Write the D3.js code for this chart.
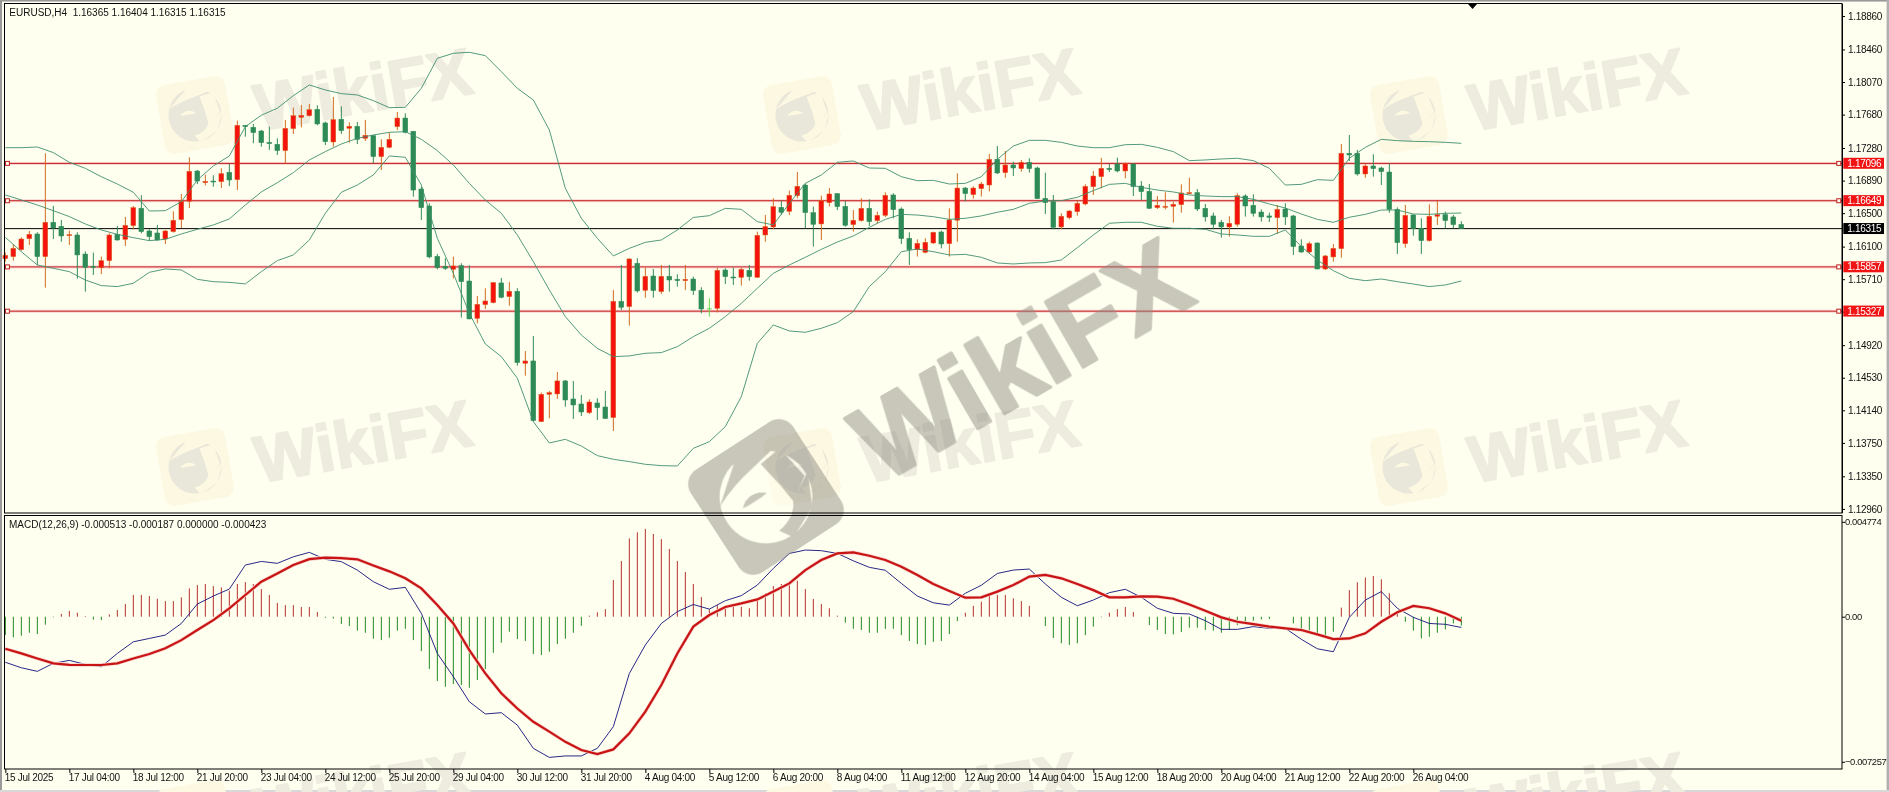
<!DOCTYPE html>
<html><head><meta charset="utf-8">
<script src="https://cdn.jsdelivr.net/npm/d3@7/dist/d3.min.js"></script>
<style>
html,body{margin:0;padding:0;background:#fffff0;overflow:hidden}
svg{display:block}
text{font-family:"Liberation Sans",Arial,sans-serif;fill:#111}
</style></head><body><svg id="c" width="1889" height="792"></svg>
<script>
const opens=[1.15956,1.15980,1.16063,1.16195,1.16251,1.15980,1.16391,1.16343,1.16231,1.16239,
1.16011,1.15864,1.15848,1.15932,1.16247,1.16187,1.16351,1.16558,1.16287,1.16263,
1.16191,1.16279,1.16423,1.16642,1.17005,1.16865,1.16885,1.16877,1.16989,1.16901,
1.17552,1.17528,1.17484,1.17348,1.17324,1.17249,1.17512,1.17647,1.17667,1.17743,
1.17580,1.17352,1.17624,1.17516,1.17540,1.17396,1.17428,1.17177,1.17288,1.17536,
1.17639,1.17480,1.16789,1.16586,1.15983,1.15864,1.15828,1.15872,1.15688,1.15241,
1.15405,1.15429,1.15665,1.15501,1.15565,1.14703,1.14731,1.14005,1.14332,1.14336,
1.14492,1.14276,1.14216,1.14112,1.14228,1.14180,1.14053,1.15445,1.15381,1.15900,
1.15577,1.15748,1.15561,1.15744,1.15708,1.15692,1.15712,1.15577,1.15361,1.15361,
1.15820,1.15736,1.15732,1.15816,1.15732,1.16239,1.16335,1.16570,1.16522,1.16710,
1.16837,1.16506,1.16371,1.16626,1.16734,1.16582,1.16363,1.16411,1.16558,1.16411,
1.16474,1.16718,1.16550,1.16199,1.16063,1.16031,1.16143,1.16275,1.16135,1.16415,
1.16801,1.16722,1.16794,1.16837,1.17145,1.16985,1.17077,1.17033,1.17109,1.17041,
1.16678,1.16638,1.16335,1.16446,1.16518,1.16610,1.16817,1.16937,1.17037,1.17089,
1.17005,1.17089,1.16825,1.16762,1.16566,1.16570,1.16582,1.16602,1.16734,1.16746,
1.16558,1.16467,1.16391,1.16335,1.16367,1.16706,1.16594,1.16514,1.16467,1.16446,
1.16550,1.16467,1.16107,1.16035,1.16143,1.15832,1.15976,1.16075,1.17217,1.17217,
1.16969,1.17065,1.17041,1.16993,1.16546,1.16135,1.16479,1.16319,1.16171,1.16463,
1.16483,1.16455,1.16365];
const highs=[1.16028,1.16127,1.16211,1.16287,1.16271,1.17217,1.16586,1.16419,1.16291,1.16271,
1.16043,1.16028,1.15980,1.16259,1.16347,1.16455,1.16586,1.16714,1.16307,1.16359,
1.16299,1.16522,1.16730,1.17169,1.17017,1.16961,1.16953,1.17037,1.17089,1.17608,
1.17556,1.17568,1.17496,1.17536,1.17396,1.17616,1.17763,1.17795,1.17807,1.17791,
1.17596,1.17891,1.17779,1.17588,1.17592,1.17616,1.17436,1.17384,1.17464,1.17711,
1.17695,1.17484,1.16817,1.16618,1.16011,1.15960,1.15980,1.15900,1.15876,1.15509,
1.15601,1.15677,1.15724,1.15677,1.15601,1.14850,1.15030,1.14352,1.14372,1.14599,
1.14503,1.14492,1.14324,1.14272,1.14284,1.14372,1.15581,1.15880,1.15960,1.15960,
1.15848,1.15832,1.15880,1.15880,1.15768,1.15880,1.15740,1.15613,1.15481,1.15848,
1.15840,1.15848,1.15848,1.15880,1.16279,1.16479,1.16678,1.16650,1.16770,1.16993,
1.16857,1.16578,1.16710,1.16801,1.16738,1.16646,1.16538,1.16678,1.16666,1.16518,
1.16750,1.16738,1.16570,1.16271,1.16187,1.16199,1.16279,1.16291,1.16558,1.16977,
1.16813,1.16821,1.16873,1.17209,1.17304,1.17245,1.17117,1.17137,1.17157,1.17057,
1.16985,1.16718,1.16498,1.16538,1.16646,1.16845,1.17005,1.17161,1.17089,1.17165,
1.17109,1.17097,1.16885,1.16849,1.16706,1.16750,1.16638,1.16845,1.16925,1.16789,
1.16610,1.16506,1.16419,1.16463,1.16738,1.16726,1.16726,1.16546,1.16506,1.16598,
1.16618,1.16479,1.16187,1.16159,1.16151,1.16000,1.16131,1.17328,1.17436,1.17257,
1.17085,1.17205,1.17057,1.17097,1.16570,1.16598,1.16486,1.16439,1.16606,1.16646,
1.16518,1.16479,1.16404];
const lows=[1.15920,1.15932,1.16051,1.16119,1.15880,1.15609,1.16191,1.16159,1.16119,1.15716,
1.15561,1.15760,1.15772,1.15840,1.16171,1.16107,1.16307,1.16259,1.16171,1.16171,
1.16131,1.16267,1.16323,1.16562,1.16849,1.16833,1.16817,1.16801,1.16825,1.16777,
1.17416,1.17337,1.17296,1.17257,1.17197,1.17097,1.17448,1.17528,1.17655,1.17552,
1.17316,1.17296,1.17448,1.17344,1.17328,1.17364,1.17097,1.17017,1.17276,1.17496,
1.17456,1.16698,1.16419,1.15960,1.15828,1.15820,1.15720,1.15250,1.15230,1.15182,
1.15353,1.15421,1.15481,1.15393,1.14675,1.14555,1.14005,1.14001,1.14045,1.14276,
1.14184,1.14037,1.14072,1.14096,1.14025,1.14041,1.13893,1.15341,1.15154,1.15549,
1.15489,1.15489,1.15533,1.15561,1.15621,1.15581,1.15521,1.15301,1.15261,1.15313,
1.15653,1.15641,1.15633,1.15692,1.15728,1.16159,1.16307,1.16479,1.16479,1.16678,
1.16319,1.16100,1.16179,1.16578,1.16538,1.16339,1.16279,1.16399,1.16347,1.16379,
1.16454,1.16439,1.16131,1.15880,1.15980,1.16019,1.16131,1.16079,1.15980,1.16159,
1.16642,1.16674,1.16698,1.16761,1.16969,1.16925,1.16945,1.16997,1.16985,1.16670,
1.16490,1.16307,1.16307,1.16426,1.16470,1.16594,1.16718,1.16797,1.16993,1.16989,
1.16917,1.16706,1.16658,1.16550,1.16550,1.16546,1.16387,1.16506,1.16726,1.16526,
1.16399,1.16307,1.16207,1.16219,1.16339,1.16459,1.16459,1.16399,1.16395,1.16251,
1.16359,1.16000,1.16027,1.16019,1.15828,1.15820,1.15920,1.15968,1.17125,1.16949,
1.16925,1.16937,1.16837,1.16506,1.16011,1.16087,1.16231,1.16011,1.16159,1.16359,
1.16319,1.16319,1.16315];
const closes=[1.15996,1.16079,1.16191,1.16247,1.15980,1.16391,1.16323,1.16227,1.16243,1.16000,
1.15852,1.15852,1.15932,1.16239,1.16179,1.16355,1.16566,1.16279,1.16219,1.16179,
1.16287,1.16415,1.16642,1.17001,1.16885,1.16881,1.16873,1.16973,1.16897,1.17552,
1.17536,1.17464,1.17344,1.17332,1.17249,1.17516,1.17667,1.17671,1.17739,1.17568,
1.17356,1.17620,1.17488,1.17540,1.17384,1.17432,1.17177,1.17288,1.17384,1.17639,
1.17468,1.16777,1.16566,1.15976,1.15848,1.15840,1.15868,1.15680,1.15234,1.15409,
1.15449,1.15669,1.15493,1.15565,1.14711,1.14731,1.14017,1.14332,1.14352,1.14492,
1.14264,1.14204,1.14120,1.14240,1.14172,1.14041,1.15445,1.15373,1.15952,1.15569,
1.15744,1.15573,1.15744,1.15700,1.15692,1.15708,1.15573,1.15353,1.15349,1.15816,
1.15740,1.15724,1.15828,1.15740,1.16235,1.16339,1.16578,1.16510,1.16714,1.16822,
1.16506,1.16367,1.16650,1.16730,1.16578,1.16355,1.16415,1.16558,1.16399,1.16474,
1.16714,1.16542,1.16195,1.16063,1.16139,1.16151,1.16271,1.16131,1.16419,1.16801,
1.16734,1.16801,1.16849,1.17145,1.16981,1.17077,1.17041,1.17109,1.17033,1.16674,
1.16626,1.16331,1.16463,1.16526,1.16618,1.16821,1.16945,1.17037,1.17021,1.17005,
1.17097,1.16817,1.16758,1.16558,1.16594,1.16582,1.16606,1.16742,1.16746,1.16550,
1.16455,1.16367,1.16335,1.16379,1.16710,1.16586,1.16498,1.16455,1.16451,1.16546,
1.16455,1.16100,1.16035,1.16135,1.15832,1.15988,1.16079,1.17217,1.17197,1.16969,
1.17065,1.17033,1.16997,1.16546,1.16147,1.16474,1.16315,1.16171,1.16463,1.16483,
1.16411,1.16363,1.16315];

// Bollinger bands, read every second bar
const bandUpper=[1.17284,1.17284,1.17292,1.17225,1.17109,1.17037,1.16937,1.16849,1.16750,1.16526,
1.16530,1.16638,1.16897,1.17065,1.17185,1.17536,1.17672,1.17756,1.17907,1.18035,
1.17975,1.17931,1.17915,1.17847,1.17763,1.17767,1.17995,1.18354,1.18414,1.18426,
1.18386,1.18194,1.17995,1.17855,1.17496,1.16798,1.16439,1.16199,1.15988,1.16079,
1.16151,1.16179,1.16299,1.16449,1.16470,1.16558,1.16546,1.16399,1.16359,1.16618,
1.16857,1.16957,1.17109,1.17125,1.17041,1.17037,1.16937,1.16889,1.16893,1.16849,
1.16857,1.16937,1.17145,1.17304,1.17372,1.17372,1.17348,1.17304,1.17284,1.17284,
1.17320,1.17324,1.17288,1.17237,1.17129,1.17137,1.17149,1.17157,1.17129,1.17037,
1.16837,1.16845,1.16901,1.16893,1.17157,1.17288,1.17384,1.17368,1.17360,1.17356,
1.17348,1.17336];
const bandMiddle=[1.16718,1.16658,1.16598,1.16530,1.16459,1.16371,1.16299,1.16247,1.16207,1.16171,
1.16187,1.16251,1.16307,1.16359,1.16431,1.16598,1.16754,1.16865,1.16985,1.17137,
1.17237,1.17328,1.17396,1.17436,1.17468,1.17476,1.17384,1.17249,1.17077,1.16857,
1.16658,1.16499,1.16239,1.15920,1.15581,1.15262,1.15042,1.14882,1.14783,1.14791,
1.14823,1.14831,1.14902,1.15022,1.15122,1.15262,1.15421,1.15601,1.15780,1.15880,
1.15972,1.16067,1.16155,1.16227,1.16331,1.16426,1.16486,1.16478,1.16458,1.16426,
1.16439,1.16467,1.16511,1.16546,1.16618,1.16646,1.16650,1.16690,1.16770,1.16845,
1.16857,1.16809,1.16777,1.16754,1.16718,1.16706,1.16698,1.16698,1.16666,1.16610,
1.16562,1.16490,1.16426,1.16391,1.16451,1.16486,1.16538,1.16538,1.16490,1.16486,
1.16498,1.16502];
const bandLower=[1.16211,1.16039,1.15880,1.15840,1.15800,1.15700,1.15633,1.15621,1.15661,1.15792,
1.15832,1.15820,1.15708,1.15680,1.15672,1.15653,1.15800,1.15932,1.16000,1.16179,
1.16499,1.16750,1.16837,1.16957,1.17185,1.17169,1.16837,1.16199,1.15780,1.15301,
1.14934,1.14783,1.14524,1.14005,1.13749,1.13793,1.13713,1.13598,1.13554,1.13526,
1.13494,1.13478,1.13474,1.13685,1.13765,1.13945,1.14304,1.14942,1.15162,1.15090,
1.15074,1.15122,1.15190,1.15322,1.15621,1.15800,1.16039,1.16071,1.16039,1.16000,
1.16007,1.15972,1.15904,1.15892,1.15904,1.15908,1.15940,1.16087,1.16239,1.16379,
1.16391,1.16391,1.16343,1.16319,1.16319,1.16307,1.16251,1.16239,1.16223,1.16223,
1.16299,1.16100,1.15940,1.15812,1.15720,1.15692,1.15712,1.15680,1.15652,1.15621,
1.15641,1.15688];

const macdHist=[-.00087,-.00098,-.00090,-.00076,-.00082,-.00038,-.00003,.00013,.00027,.00019,
.00003,-.00014,-.00016,.00011,.00032,.00060,.00103,.00103,.00098,.00085,
.00074,.00074,.00092,.00134,.00150,.00155,.00145,.00139,.00123,.00155,
.00164,.00155,.00131,.00103,.00065,.00055,.00055,.00046,.00046,.00022,
-.00005,-.00009,-.00035,-.00044,-.00066,-.00076,-.00104,-.00111,-.00100,-.00066,
-.00057,-.00111,-.00163,-.00248,-.00305,-.00332,-.00319,-.00324,-.00337,-.00300,
-.00248,-.00171,-.00123,-.00071,-.00106,-.00115,-.00177,-.00182,-.00166,-.00130,
-.00104,-.00076,-.00043,.00005,.00021,.00036,.00174,.00264,.00371,.00400,
.00416,.00392,.00368,.00321,.00264,.00212,.00155,.00093,.00035,.00055,
.00047,.00051,.00047,.00040,.00079,.00111,.00145,.00155,.00166,.00171,
.00131,.00084,.00060,.00040,.00005,-.00028,-.00057,-.00063,-.00076,-.00076,
-.00058,-.00057,-.00087,-.00115,-.00130,-.00134,-.00119,-.00115,-.00082,-.00021,
.00019,.00051,.00071,.00098,.00103,.00103,.00087,.00074,.00051,0,
-.00044,-.00101,-.00126,-.00134,-.00126,-.00087,-.00047,-.00003,.00019,.00036,
.00046,.00022,0,-.00040,-.00063,-.00082,-.00084,-.00073,-.00052,-.00052,
-.00063,-.00066,-.00076,-.00063,-.00040,-.00027,-.00019,-.00013,-.00011,0,
0,-.00032,-.00060,-.00066,-.00082,-.00098,-.00071,.00043,.00126,.00163,
.00186,.00193,.00177,.00111,.00024,-.00024,-.00066,-.00103,-.00095,-.00076,
-.00060,-.00032,-.00042];
const macdMain=[-.00216,-.00242,-.00259,-.00221,-.00207,-.00226,-.00237,-.00174,-.00119,-.00103,
-.00087,-.00032,.00060,.00098,.00131,.00245,.00262,.00253,.00284,.00305,
.00272,.00261,.00221,.00166,.00130,.00139,.00016,-.00174,-.00284,-.00403,
-.00461,-.00455,-.00514,-.00624,-.00667,-.00660,-.00660,-.00624,-.00521,-.00269,
-.00134,-.00032,.00024,.00058,.00036,.00076,.00100,.00150,.00229,.00300,
.00316,.00313,.00300,.00265,.00234,.00220,.00158,.00098,.00066,.00055,
.00111,.00149,.00205,.00221,.00226,.00155,.00092,.00052,.00079,.00114,
.00130,.00092,.00040,.00016,.00013,-.00019,-.00060,-.00060,-.00047,-.00055,
-.00055,-.00107,-.00152,-.00166,-.00003,.00079,.00119,.00040,-.00003,-.00032,
-.00036,-.00051];
const macdSignal=[-.00152,-.00174,-.00198,-.00221,-.00228,-.00229,-.00229,-.00221,-.00198,-.00177,
-.00150,-.00111,-.00063,-.00016,.00040,.00103,.00166,.00205,.00245,.00273,
.00280,.00278,.00272,.00243,.00215,.00182,.00134,.00055,-.00032,-.00158,
-.00269,-.00363,-.00435,-.00498,-.00545,-.00593,-.00632,-.00651,-.00629,-.00553,
-.00450,-.00324,-.00174,-.00047,.00008,.00046,.00063,.00082,.00119,.00158,
.00221,.00269,.00300,.00305,.00289,.00269,.00237,.00198,.00155,.00122,
.00090,.00092,.00119,.00150,.00190,.00198,.00182,.00155,.00126,.00092,
.00092,.00096,.00095,.00085,.00058,.00028,-.00003,-.00024,-.00035,-.00047,
-.00055,-.00063,-.00084,-.00106,-.00103,-.00079,-.00024,.00021,.00051,.00040,
.00016,-.00019];

const priceTicks=[1.18860,1.18460,1.18070,1.17680,1.17280,1.16890,1.16500,1.16100,1.15710,1.15320,1.14920,1.14530,1.14140,1.13750,1.13350,1.12960];
const macdTicks=[0.004774,0,-0.007257];
const timeLabels=["15 Jul 2025","17 Jul 04:00","18 Jul 12:00","21 Jul 20:00","23 Jul 04:00","24 Jul 12:00","25 Jul 20:00","29 Jul 04:00","30 Jul 12:00","31 Jul 20:00","4 Aug 04:00","5 Aug 12:00","6 Aug 20:00","8 Aug 04:00","11 Aug 12:00","12 Aug 20:00","14 Aug 04:00","15 Aug 12:00","18 Aug 20:00","20 Aug 04:00","21 Aug 12:00","22 Aug 20:00","26 Aug 04:00"];
const levelLines=[1.17096,1.16649,1.15857,1.15327];
const lastPrice=1.16315;
const titleMain="EURUSD,H4  1.16365 1.16404 1.16315 1.16315";
const titleMacd="MACD(12,26,9) -0.000513 -0.000187 0.000000 -0.000423";
const highlightBar=88;

const W=1889,H=792,L=4,R=1842,T1=4,B1=513,T2=516,B2=769.8;
const svg=d3.select("#c");
const bars=d3.range(opens.length);
const x=d3.scaleLinear().domain([0,182]).range([5.33,1461.33]);
const y=d3.scaleLinear().domain([1.12899,1.19004]).range([514,T1]);
const ym=d3.scaleLinear().domain([-0.007257,0.004774]).range([B2,T2]);
const evenBar=k=>k*2;

svg.append("rect").attr("width",W).attr("height",H).attr("fill","#fffff0");

// window chrome
const chrome=svg.append("g");
chrome.append("rect").attr("x",0).attr("y",0).attr("width",W).attr("height",1.6).attr("fill","#9a9a9a");
chrome.append("rect").attr("x",0).attr("y",0).attr("width",2).attr("height",H).attr("fill","#9a9a9a");
chrome.append("rect").attr("x",W-2.4).attr("y",0).attr("width",2.4).attr("height",H).attr("fill","#b0b0b0");
chrome.append("rect").attr("x",0).attr("y",H-2).attr("width",W).attr("height",2).attr("fill","#d8d8d8");

// watermark logo: rounded tile, disc, aperture vanes
function logo(g,size,body,mark){
  const s=size/2, p=(a,b)=>`${a*s},${b*s}`;
  g.append("rect").attr("x",-s).attr("y",-s).attr("width",size).attr("height",size).attr("rx",size*.14).attr("fill",body);
  g.append("circle").attr("r",size*.38).attr("fill",mark);
  g.append("path").attr("fill",body).attr("d",`M${p(-.72,-.28)} L${p(-.05,-.82)} L${p(.62,-.62)} L${p(.1,-.52)} Q${p(-.35,-.45)} ${p(-.72,-.28)}Z`);
  g.append("path").attr("fill",body).attr("d",`M${p(.22,-.5)} L${p(.62,-.55)} L${p(.72,.05)} L${p(.34,.32)} L${p(.3,-.05)}Z`);
  g.append("path").attr("fill",body).attr("d",`M${p(.34,.3)} L${p(.8,.02)} L${p(.55,.55)} L${p(.02,.8)} L${p(-.12,.58)} Q${p(.2,.55)} ${p(.34,.3)}Z`);
  g.append("path").attr("fill",body).attr("d",`M${p(-.42,-.05)} Q${p(-.2,-.25)} ${p(.05,-.05)} Q${p(-.15,-.02)} ${p(-.42,-.05)}Z`);
}
const wmCols=[0,607,1214],wmRows=[0,352,704];
const wm=svg.append("g");
wmRows.forEach(dy=>wmCols.forEach(dx=>{
  const lg=wm.append("g").attr("transform",`translate(${195+dx},${115+dy}) rotate(-10)`);
  logo(lg,70,"#fdf8e2","#e9e7da");
  wm.append("text").attr("transform",`translate(${259+dx},${131+dy}) rotate(-10)`)
    .attr("font-size",66).attr("font-weight","bold")
    .style("fill","#eeecdf").style("stroke","#eeecdf").style("stroke-width",2).style("stroke-linejoin","round")
    .text("WikiFX");
}));

// level lines
const lv=svg.append("g");
lv.selectAll("line.h").data(levelLines).join("line").attr("class","h")
  .attr("x1",L).attr("x2",R).attr("y1",d=>y(d)).attr("y2",d=>y(d))
  .attr("stroke","#fbd5d0").attr("stroke-width",3);
lv.selectAll("line.l").data(levelLines).join("line").attr("class","l")
  .attr("x1",L).attr("x2",R).attr("y1",d=>y(d)).attr("y2",d=>y(d))
  .attr("stroke","#c01c1c").attr("stroke-width",1);
lv.append("line").attr("x1",L).attr("x2",R).attr("y1",y(lastPrice)).attr("y2",y(lastPrice)).attr("stroke","#000").attr("stroke-width",1);
[7.4,1838.8].forEach(px=>{
  lv.selectAll(null).data(levelLines).join("rect")
    .attr("x",px-2).attr("y",d=>y(d)-2).attr("width",4).attr("height",4)
    .attr("fill","#fffff0").attr("stroke","#c01c1c").attr("stroke-width",1);
});

// candles
const isUp=i=>closes[i]>=opens[i];
const colWick=i=>i===highlightBar?"#63d84e":(isUp(i)?"#d2691e":"#2e8b57");
const colBody=i=>i===highlightBar?"#63d84e":(isUp(i)?"#f5130f":"#2e8b57");
const cg=svg.append("g");
cg.selectAll("line").data(bars).join("line")
  .attr("x1",i=>x(i)).attr("x2",i=>x(i))
  .attr("y1",i=>y(highs[i])).attr("y2",i=>y(lows[i]))
  .attr("stroke",colWick).attr("stroke-width",1);
cg.selectAll("rect").data(bars).join("rect")
  .attr("x",i=>x(i)-2.4).attr("width",4.8)
  .attr("y",i=>y(Math.max(opens[i],closes[i])))
  .attr("height",i=>Math.max(1,Math.abs(y(opens[i])-y(closes[i]))))
  .attr("fill",colBody)
  .attr("stroke",i=>i===highlightBar?"none":(isUp(i)?"#d2691e":"#2e8b57")).attr("stroke-width",.5);

// bollinger
const bandLine=d3.line().x((d,k)=>x(evenBar(k))).y(d=>y(d));
[bandUpper,bandMiddle,bandLower].forEach(a=>{
  svg.append("path").attr("d",bandLine(a)).attr("fill","none").attr("stroke","#3f8f6f").attr("stroke-width",.9);
});

// MACD
const mg=svg.append("g");
mg.selectAll("line").data(bars.filter(i=>macdHist[i]!==0)).join("line")
  .attr("x1",i=>x(i)).attr("x2",i=>x(i))
  .attr("y1",ym(0)).attr("y2",i=>ym(macdHist[i]))
  .attr("stroke",i=>macdHist[i]>0?"#b5302a":"#1f8a1f").attr("stroke-width",1);
const macdLine=d3.line().x((d,k)=>x(evenBar(k))).y(d=>ym(d));
svg.append("path").attr("d",macdLine(macdMain)).attr("fill","none").attr("stroke","#10107a").attr("stroke-width",.9);
svg.append("path").attr("d",macdLine(macdSignal)).attr("fill","none").attr("stroke","#f9d2ca").attr("stroke-width",3.6);
svg.append("path").attr("d",macdLine(macdSignal)).attr("fill","none").attr("stroke","#c81414").attr("stroke-width",2.2);

// central watermark
const big=svg.append("g").attr("opacity",.5);
const bl=big.append("g").attr("transform","translate(766,497) rotate(-33)");
logo(bl,122,"#908f85","#fffff0");
big.append("text").attr("transform","translate(882,484) rotate(-30)")
  .attr("font-size",110).attr("font-weight","bold")
  .style("fill","#908f85").style("stroke","#908f85").style("stroke-width",3).style("stroke-linejoin","round")
  .text("WikiFX");

// frame
const fr=svg.append("g").attr("fill","none").attr("stroke","#000").attr("stroke-width",1);
fr.append("rect").attr("x",L+.5).attr("y",T1-.5).attr("width",R-L-.5).attr("height",B1-T1+.5);
fr.append("rect").attr("x",L+.5).attr("y",515.5).attr("width",R-L-.5).attr("height",769-515.5);

// price axis
const axStyle=g=>{g.selectAll("text").attr("font-size",10).style("letter-spacing","-.3px");g.selectAll("line,path").attr("stroke","#000");};
svg.append("g").attr("transform",`translate(${R},0)`)
  .call(d3.axisRight(y).tickValues(priceTicks).tickFormat(d3.format(".5f")).tickSize(3).tickPadding(3))
  .call(axStyle)
  .call(g=>g.select(".domain").attr("d",`M0.5,${T1}V${B1}`));

// macd axis
const ma=svg.append("g").attr("transform",`translate(${R},0)`)
  .call(d3.axisRight(ym).tickValues(macdTicks).tickFormat(d=>d===0?"0.00":d3.format(".6f")(d)).tickSize(3).tickPadding(0))
  .call(axStyle);
ma.selectAll("text").attr("font-size",9.4).style("letter-spacing","-.35px");
ma.selectAll(".tick").filter(d=>d!==0).attr("transform",d=>`translate(0,${ym(d)+(d>0?6.3:-7.5)})`);
ma.select(".domain").remove();

// time axis
svg.append("g").attr("transform","translate(0,769)")
  .call(d3.axisBottom(x).tickValues(timeLabels.map((d,k)=>k*8)).tickFormat((d,k)=>timeLabels[k]).tickSize(4).tickPadding(1))
  .call(axStyle)
  .call(g=>{g.select(".domain").remove();g.selectAll("text").attr("text-anchor","start").attr("dx",-1);});

// price flags
const flags=svg.append("g");
const flagData=levelLines.map(v=>({v,c:"#f01414"})).concat([{v:lastPrice,c:"#000"}]);
flags.selectAll("rect").data(flagData).join("rect")
  .attr("x",1843.3).attr("width",40.7).attr("y",d=>y(d.v)-5.6).attr("height",11).attr("fill",d=>d.c);
flags.selectAll("text").data(flagData).join("text")
  .attr("x",1847.3).attr("y",d=>y(d.v)+3.5).attr("font-size",10).style("letter-spacing","-.3px").style("fill","#fff")
  .text(d=>d3.format(".5f")(d.v));

// current bar marker
svg.append("path").attr("d",d3.line()([[x(183.4)-4.5,T1],[x(183.4)+4.5,T1],[x(183.4),T1+5]])+"Z").attr("fill","#000");

// titles
svg.append("text").attr("x",9.3).attr("y",16).attr("font-size",10).style("letter-spacing","0").style("white-space","pre").text(titleMain);
svg.append("text").attr("x",9).attr("y",527.5).attr("font-size",10).style("letter-spacing","0").text(titleMacd);
</script></body></html>
